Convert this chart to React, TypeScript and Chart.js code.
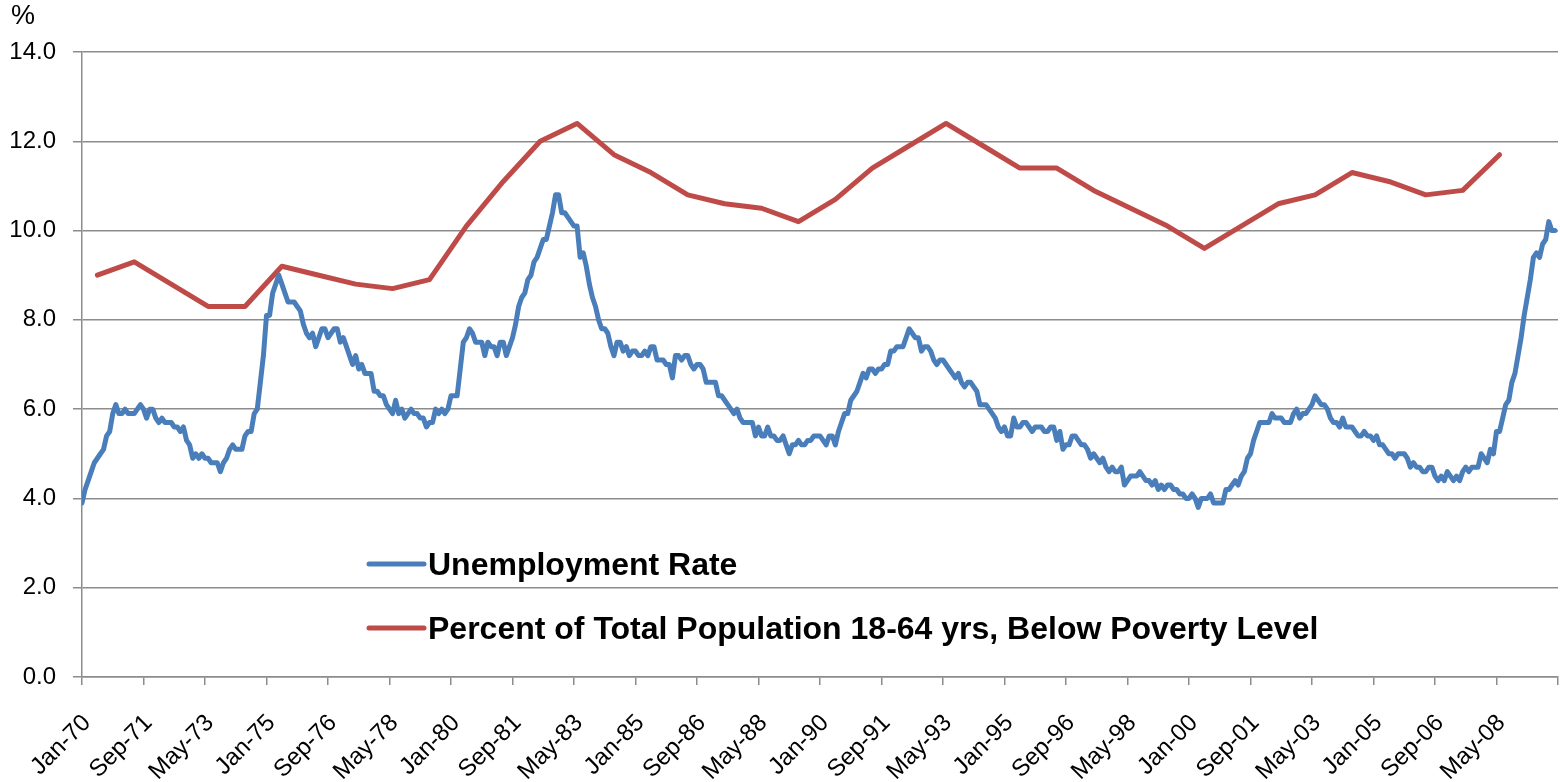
import React, { useEffect, useRef } from "react";
import { Chart, registerables } from "chart.js";

Chart.register(...registerables);

// X-axis tick labels (every 20 months starting Jan-70)
const xTickLabels = [
  "Jan-70", "Sep-71", "May-73", "Jan-75", "Sep-76", "May-78", "Jan-80", "Sep-81",
  "May-83", "Jan-85", "Sep-86", "May-88", "Jan-90", "Sep-91", "May-93", "Jan-95",
  "Sep-96", "May-98", "Jan-00", "Sep-01", "May-03", "Jan-05", "Sep-06", "May-08",
];

const yTickValues = [0, 2, 4, 6, 8, 10, 12, 14];

// Monthly unemployment rate, Jan-70 .. Dec-09 (one row per year)
const unemp1970s = [
  3.9, 4.2, 4.4, 4.6, 4.8, 4.9, 5.0, 5.1, 5.4, 5.5, 5.9, 6.1,
  5.9, 5.9, 6.0, 5.9, 5.9, 5.9, 6.0, 6.1, 6.0, 5.8, 6.0, 6.0,
  5.8, 5.7, 5.8, 5.7, 5.7, 5.7, 5.6, 5.6, 5.5, 5.6, 5.3, 5.2,
  4.9, 5.0, 4.9, 5.0, 4.9, 4.9, 4.8, 4.8, 4.8, 4.6, 4.8, 4.9,
  5.1, 5.2, 5.1, 5.1, 5.1, 5.4, 5.5, 5.5, 5.9, 6.0, 6.6, 7.2,
  8.1, 8.1, 8.6, 8.8, 9.0, 8.8, 8.6, 8.4, 8.4, 8.4, 8.3, 8.2,
  7.9, 7.7, 7.6, 7.7, 7.4, 7.6, 7.8, 7.8, 7.6, 7.7, 7.8, 7.8,
  7.5, 7.6, 7.4, 7.2, 7.0, 7.2, 6.9, 7.0, 6.8, 6.8, 6.8, 6.4,
  6.4, 6.3, 6.3, 6.1, 6.0, 5.9, 6.2, 5.9, 6.0, 5.8, 5.9, 6.0,
  5.9, 5.9, 5.8, 5.8, 5.6, 5.7, 5.7, 6.0, 5.9, 6.0, 5.9, 6.0,
];
const unemp1980s = [
  6.3, 6.3, 6.3, 6.9, 7.5, 7.6, 7.8, 7.7, 7.5, 7.5, 7.5, 7.2,
  7.5, 7.4, 7.4, 7.2, 7.5, 7.5, 7.2, 7.4, 7.6, 7.9, 8.3, 8.5,
  8.6, 8.9, 9.0, 9.3, 9.4, 9.6, 9.8, 9.8, 10.1, 10.4, 10.8, 10.8,
  10.4, 10.4, 10.3, 10.2, 10.1, 10.1, 9.4, 9.5, 9.2, 8.8, 8.5, 8.3,
  8.0, 7.8, 7.8, 7.7, 7.4, 7.2, 7.5, 7.5, 7.3, 7.4, 7.2, 7.3,
  7.3, 7.2, 7.2, 7.3, 7.2, 7.4, 7.4, 7.1, 7.1, 7.1, 7.0, 7.0,
  6.7, 7.2, 7.2, 7.1, 7.2, 7.2, 7.0, 6.9, 7.0, 7.0, 6.9, 6.6,
  6.6, 6.6, 6.6, 6.3, 6.3, 6.2, 6.1, 6.0, 5.9, 6.0, 5.8, 5.7,
  5.7, 5.7, 5.7, 5.4, 5.6, 5.4, 5.4, 5.6, 5.4, 5.4, 5.3, 5.3,
  5.4, 5.2, 5.0, 5.2, 5.2, 5.3, 5.2, 5.2, 5.3, 5.3, 5.4, 5.4,
];
const unemp1990s = [
  5.4, 5.3, 5.2, 5.4, 5.4, 5.2, 5.5, 5.7, 5.9, 5.9, 6.2, 6.3,
  6.4, 6.6, 6.8, 6.7, 6.9, 6.9, 6.8, 6.9, 6.9, 7.0, 7.0, 7.3,
  7.3, 7.4, 7.4, 7.4, 7.6, 7.8, 7.7, 7.6, 7.6, 7.3, 7.4, 7.4,
  7.3, 7.1, 7.0, 7.1, 7.1, 7.0, 6.9, 6.8, 6.7, 6.8, 6.6, 6.5,
  6.6, 6.6, 6.5, 6.4, 6.1, 6.1, 6.1, 6.0, 5.9, 5.8, 5.6, 5.5,
  5.6, 5.4, 5.4, 5.8, 5.6, 5.6, 5.7, 5.7, 5.6, 5.5, 5.6, 5.6,
  5.6, 5.5, 5.5, 5.6, 5.6, 5.3, 5.5, 5.1, 5.2, 5.2, 5.4, 5.4,
  5.3, 5.2, 5.2, 5.1, 4.9, 5.0, 4.9, 4.8, 4.9, 4.7, 4.6, 4.7,
  4.6, 4.6, 4.7, 4.3, 4.4, 4.5, 4.5, 4.5, 4.6, 4.5, 4.4, 4.4,
  4.3, 4.4, 4.2, 4.3, 4.2, 4.3, 4.3, 4.2, 4.2, 4.1, 4.1, 4.0,
];
const unemp2000s = [
  4.0, 4.1, 4.0, 3.8, 4.0, 4.0, 4.0, 4.1, 3.9, 3.9, 3.9, 3.9,
  4.2, 4.2, 4.3, 4.4, 4.3, 4.5, 4.6, 4.9, 5.0, 5.3, 5.5, 5.7,
  5.7, 5.7, 5.7, 5.9, 5.8, 5.8, 5.8, 5.7, 5.7, 5.7, 5.9, 6.0,
  5.8, 5.9, 5.9, 6.0, 6.1, 6.3, 6.2, 6.1, 6.1, 6.0, 5.8, 5.7,
  5.7, 5.6, 5.8, 5.6, 5.6, 5.6, 5.5, 5.4, 5.4, 5.5, 5.4, 5.4,
  5.3, 5.4, 5.2, 5.2, 5.1, 5.0, 5.0, 4.9, 5.0, 5.0, 5.0, 4.9,
  4.7, 4.8, 4.7, 4.7, 4.6, 4.6, 4.7, 4.7, 4.5, 4.4, 4.5, 4.4,
  4.6, 4.5, 4.4, 4.5, 4.4, 4.6, 4.7, 4.6, 4.7, 4.7, 4.7, 5.0,
  4.9, 4.8, 5.1, 5.0, 5.5, 5.5, 5.8, 6.1, 6.2, 6.6, 6.8, 7.2,
  7.6, 8.1, 8.5, 8.9, 9.4, 9.5, 9.4, 9.7, 9.8, 10.2, 10.0, 10.0,
];

// Annual poverty rate, ages 18-64, 1970..2008 (plotted mid-year, June)
const povertyYears = [
  1970, 1971, 1972, 1973, 1974, 1975, 1976, 1977, 1978, 1979,
  1980, 1981, 1982, 1983, 1984, 1985, 1986, 1987, 1988, 1989,
  1990, 1991, 1992, 1993, 1994, 1995, 1996, 1997, 1998, 1999,
  2000, 2001, 2002, 2003, 2004, 2005, 2006, 2007, 2008,
];
const povertyValues = [
  9.0, 9.3, 8.8, 8.3, 8.3, 9.2, 9.0, 8.8, 8.7, 8.9,
  10.1, 11.1, 12.0, 12.4, 11.7, 11.3, 10.8, 10.6, 10.5, 10.2,
  10.7, 11.4, 11.9, 12.4, 11.9, 11.4, 11.4, 10.9, 10.5, 10.1,
  9.6, 10.1, 10.6, 10.8, 11.3, 11.1, 10.8, 10.9, 11.7,
];

const seriesNames = [
  "Unemployment Rate",
  "Percent of Total Population 18-64 yrs, Below Poverty Level",
];
const seriesColors = ["#4A7EBB", "#BE4B48"];

const FONT = "'Liberation Sans', Arial, sans-serif";
const GRID = "#8C8C8C";

export default function App() {
  const ref = useRef<HTMLCanvasElement | null>(null);

  useEffect(() => {
    if (!ref.current) return;
    const unemployment = [...unemp1970s, ...unemp1980s, ...unemp1990s, ...unemp2000s];
    const unempData = unemployment.map((v, i) => ({ x: i, y: v }));
    const povData = povertyValues.map((v, i) => ({
      x: (povertyYears[i] - 1970) * 12 + 5,
      y: v,
    }));

    const overlay = {
      id: "overlay",
      afterDraw(chart: any) {
        const { ctx, chartArea } = chart;
        ctx.save();
        // "%" unit label
        ctx.fillStyle = "#000";
        ctx.font = `27px ${FONT}`;
        ctx.textAlign = "left";
        ctx.textBaseline = "middle";
        ctx.fillText("%", 11, chartArea.top - 35);
        // legend inside plot
        const lx = chartArea.left + 287;
        const rows = [chartArea.top + 512, chartArea.top + 576];
        ctx.font = `bold 32px ${FONT}`;
        ctx.lineCap = "round";
        rows.forEach((y, i) => {
          ctx.strokeStyle = seriesColors[i];
          ctx.lineWidth = 5;
          ctx.beginPath();
          ctx.moveTo(lx, y);
          ctx.lineTo(lx + 55, y);
          ctx.stroke();
          ctx.fillStyle = "#000";
          ctx.fillText(seriesNames[i], lx + 59, y + 2);
        });
        ctx.restore();
      },
    };

    const chart = new Chart(ref.current, {
      type: "line",
      data: {
        datasets: [
          {
            label: seriesNames[0],
            data: unempData,
            borderColor: seriesColors[0],
            backgroundColor: seriesColors[0],
            borderWidth: 5,
            pointRadius: 0,
            tension: 0,
            borderJoinStyle: "round",
            borderCapStyle: "round",
          },
          {
            label: seriesNames[1],
            data: povData,
            borderColor: seriesColors[1],
            backgroundColor: seriesColors[1],
            borderWidth: 5,
            pointRadius: 0,
            tension: 0,
            borderJoinStyle: "round",
            borderCapStyle: "round",
          },
        ],
      },
      options: {
        responsive: false,
        animation: false,
        devicePixelRatio: 1,
        layout: { padding: { top: 52, right: 2, left: 0, bottom: 0 } },
        plugins: {
          legend: { display: false },
          tooltip: { enabled: false },
        },
        scales: {
          x: {
            type: "linear",
            min: 0,
            max: 480,
            afterFit(scale: any) {
              scale.height = 105;
              scale.paddingLeft = 0;
              scale.paddingRight = 0;
            },
            ticks: {
              stepSize: 20,
              autoSkip: false,
              maxRotation: 45,
              minRotation: 45,
              color: "#000",
              font: { family: FONT, size: 24 },
              padding: 24,
              labelOffset: 5,
              callback: (v: any) => xTickLabels[Math.round(Number(v) / 20)] ?? "",
            },
            grid: {
              drawOnChartArea: false,
              drawTicks: true,
              tickLength: 8,
              color: GRID,
              lineWidth: 1.5,
            },
            border: { display: true, color: GRID, width: 1.5 },
          },
          y: {
            min: 0,
            max: 14,
            afterFit(scale: any) {
              scale.width = 82;
              scale.paddingTop = 0;
              scale.paddingBottom = 0;
            },
            afterBuildTicks(scale: any) {
              scale.ticks = yTickValues.map((v) => ({ value: v }));
            },
            ticks: {
              color: "#000",
              font: { family: FONT, size: 24 },
              padding: 17,
              callback: (v: any) => Number(v).toFixed(1),
            },
            grid: {
              color: GRID,
              lineWidth: 1.5,
              tickLength: 9,
              drawTicks: true,
            },
            border: { display: true, color: GRID, width: 1.5 },
          },
        },
      },
      plugins: [overlay],
    });
    return () => chart.destroy();
  }, []);

  return (
    <div style={{ position: "fixed", left: 0, top: 0, width: 1560, height: 782, background: "#fff" }}>
      <canvas ref={ref} width={1560} height={782} style={{ display: "block", width: 1560, height: 782 }} />
    </div>
  );
}
